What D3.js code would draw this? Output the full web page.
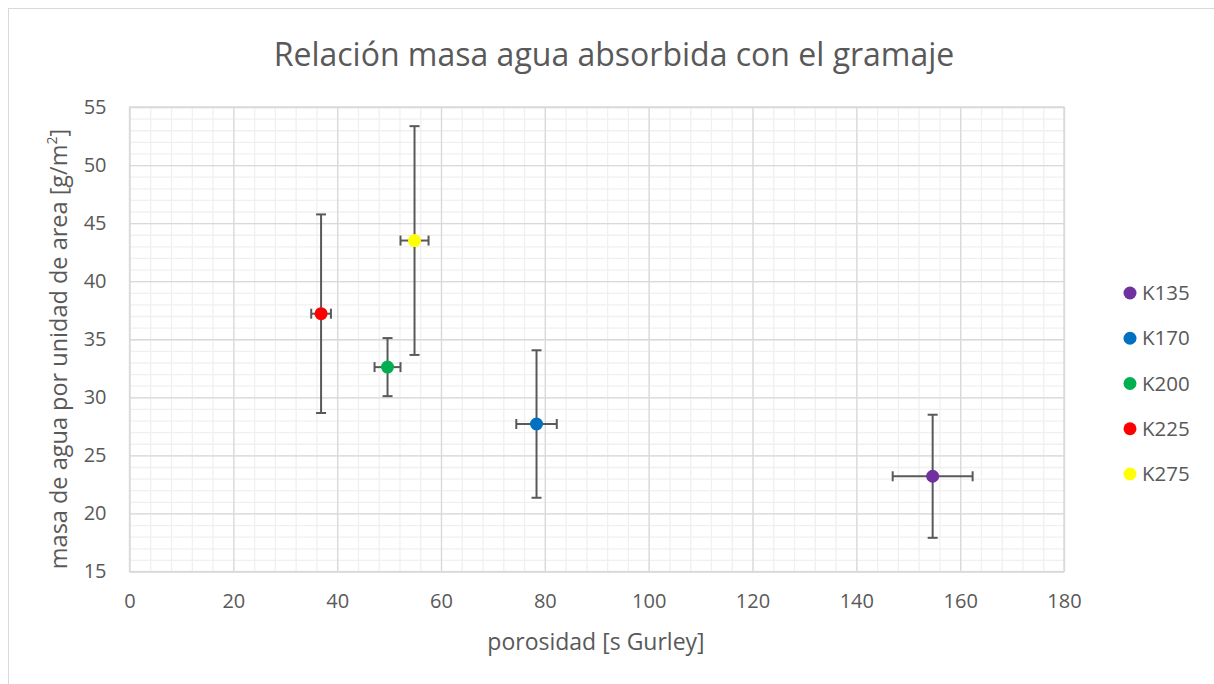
<!DOCTYPE html>
<html>
<head>
<meta charset="utf-8">
<script src="https://cdn.jsdelivr.net/npm/d3@7"></script>
<style>
  body { margin: 0; background: #fff; }
  text { font-family: "Open Sans", "Noto Sans", sans-serif; fill: #595959; }
</style>
</head>
<body>
<svg id="chart" width="1214" height="684"></svg>
<script>
// series
const series = ['K135', 'K170', 'K200', 'K225', 'K275'];
const porosity = [154.7, 78.4, 49.7, 36.9, 54.9];
const porosityErr = [7.7, 3.9, 2.5, 1.9, 2.7];
const water = [23.2, 27.7, 32.6, 37.2, 43.5];
const waterErr = [5.3, 6.35, 2.5, 8.55, 9.85];
const colors = ['#7030A0', '#0070C0', '#00B050', '#FF0000', '#FFFF00'];

const xTicks = d3.range(0, 181, 20);
const yTicks = d3.range(15, 56, 5);

const points = series.map((s, i) => ({
  name: s, x: porosity[i], ex: porosityErr[i], y: water[i], ey: waterErr[i], color: colors[i]
}));

const svg = d3.select('#chart');
const plot = {left: 129.5, right: 1064, top: 107, bottom: 571.5};

// chart frame
svg.append('rect')
  .attr('x', 8.5).attr('y', 8.5)
  .attr('width', 1230).attr('height', 700)
  .attr('fill', 'none')
  .attr('stroke', '#d9d9d9');

const x = d3.scaleLinear().domain([0, 180]).range([plot.left, plot.right]);
const y = d3.scaleLinear().domain([15, 55]).range([plot.bottom, plot.top]);

// minor grid
svg.append('g')
  .attr('class', 'minor-x')
  .attr('transform', `translate(0,${plot.bottom})`)
  .call(d3.axisBottom(x).tickValues(d3.range(0, 181, 4)).tickSize(-(plot.bottom - plot.top)).tickFormat(''))
  .call(g => g.select('.domain').remove())
  .call(g => g.selectAll('.tick line').attr('stroke', '#f0f0f0').attr('stroke-width', 1.3));

svg.append('g')
  .attr('class', 'minor-y')
  .attr('transform', `translate(${plot.left},0)`)
  .call(d3.axisLeft(y).tickValues(d3.range(15, 56, 1)).tickSize(-(plot.right - plot.left)).tickFormat(''))
  .call(g => g.select('.domain').remove())
  .call(g => g.selectAll('.tick line').attr('stroke', '#f0f0f0').attr('stroke-width', 1.3));

// major grid + labels
svg.append('g')
  .attr('class', 'x-axis')
  .attr('transform', `translate(0,${plot.bottom})`)
  .call(d3.axisBottom(x).tickValues(xTicks).tickSize(-(plot.bottom - plot.top)).tickPadding(22))
  .call(g => g.select('.domain').remove())
  .call(g => g.selectAll('.tick line').attr('stroke', '#d9d9d9').attr('stroke-width', 1.3))
  .call(g => g.selectAll('.tick text')
    .attr('font-size', 20)
    .attr('fill', '#595959')
    .attr('dy', '0.71em'));

svg.append('g')
  .attr('class', 'y-axis')
  .attr('transform', `translate(${plot.left},0)`)
  .call(d3.axisLeft(y).tickValues(yTicks).tickSize(-(plot.right - plot.left)).tickPadding(23))
  .call(g => g.select('.domain').remove())
  .call(g => g.selectAll('.tick line').attr('stroke', '#d9d9d9').attr('stroke-width', 1.3))
  .call(g => g.selectAll('.tick text')
    .attr('font-size', 20)
    .attr('fill', '#595959'));

// plot border
svg.append('rect')
  .attr('x', plot.left).attr('y', plot.top)
  .attr('width', plot.right - plot.left).attr('height', plot.bottom - plot.top)
  .attr('fill', 'none')
  .attr('stroke', '#d9d9d9')
  .attr('stroke-width', 1.3);

// error bars
const cap = 5;
const bars = svg.append('g').attr('class', 'errors')
  .attr('stroke', '#595959').attr('stroke-width', 2).attr('fill', 'none');

points.forEach(d => {
  const g = bars.append('g');
  g.append('line').attr('x1', x(d.x)).attr('x2', x(d.x)).attr('y1', y(d.y - d.ey)).attr('y2', y(d.y + d.ey));
  g.append('line').attr('x1', x(d.x) - cap).attr('x2', x(d.x) + cap).attr('y1', y(d.y - d.ey)).attr('y2', y(d.y - d.ey));
  g.append('line').attr('x1', x(d.x) - cap).attr('x2', x(d.x) + cap).attr('y1', y(d.y + d.ey)).attr('y2', y(d.y + d.ey));
  g.append('line').attr('x1', x(d.x - d.ex)).attr('x2', x(d.x + d.ex)).attr('y1', y(d.y)).attr('y2', y(d.y));
  g.append('line').attr('x1', x(d.x - d.ex)).attr('x2', x(d.x - d.ex)).attr('y1', y(d.y) - cap).attr('y2', y(d.y) + cap);
  g.append('line').attr('x1', x(d.x + d.ex)).attr('x2', x(d.x + d.ex)).attr('y1', y(d.y) - cap).attr('y2', y(d.y) + cap);
});

// markers
svg.append('g').attr('class', 'points')
  .selectAll('circle')
  .data(points)
  .join('circle')
  .attr('cx', d => x(d.x))
  .attr('cy', d => y(d.y))
  .attr('r', 6.5)
  .attr('fill', d => d.color);

// title
svg.append('text')
  .attr('x', 614).attr('y', 66)
  .attr('text-anchor', 'middle')
  .attr('font-size', 32)
  .text('Relación masa agua absorbida con el gramaje');

// axis titles
svg.append('text')
  .attr('x', 596).attr('y', 650)
  .attr('text-anchor', 'middle')
  .attr('font-size', 23)
  .text('porosidad [s Gurley]');

const yTitle = svg.append('text')
  .attr('transform', `translate(67,349) rotate(-90)`)
  .attr('text-anchor', 'middle')
  .attr('font-size', 23.5);
yTitle.append('tspan').text('masa de agua por unidad de area [g/m');
yTitle.append('tspan').attr('font-size', 14).attr('dy', -10).text('2');
yTitle.append('tspan').attr('dy', 10).text(']');

// legend
const legendY = d3.scalePoint().domain(series).range([293, 474]);
const legend = svg.append('g').attr('class', 'legend')
  .selectAll('g')
  .data(points)
  .join('g')
  .attr('transform', d => `translate(1130,${legendY(d.name)})`);
legend.append('circle').attr('r', 6.5).attr('fill', d => d.color);
legend.append('text')
  .attr('x', 12).attr('dy', '0.35em')
  .attr('font-size', 20.5)
  .text(d => d.name);
</script>
</body>
</html>
